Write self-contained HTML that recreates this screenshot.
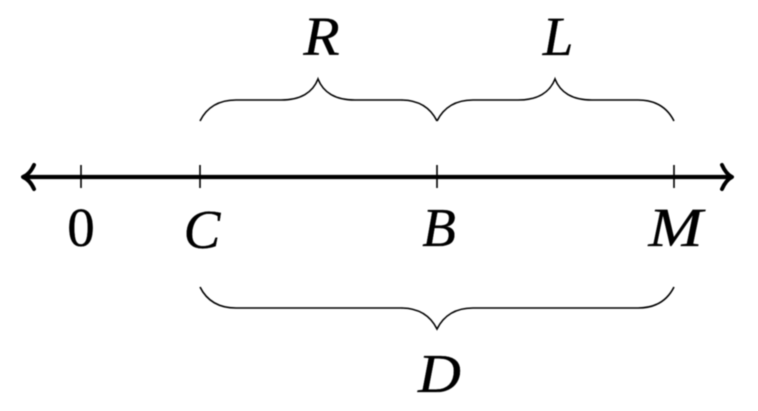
<!DOCTYPE html>
<html><head><meta charset="utf-8"><style>
html,body{margin:0;padding:0;background:#fff;width:758px;height:411px;overflow:hidden}
svg{display:block}
text{font-family:"Liberation Serif",serif;font-size:55px;fill:#000;stroke:#000;stroke-width:.35px;text-anchor:middle}
.i{font-style:italic}
</style></head><body>
<svg width="758" height="411" viewBox="0 0 758 411">
<defs><filter id="b" x="-5%" y="-5%" width="110%" height="110%"><feGaussianBlur stdDeviation="0.45"/></filter></defs>
<g filter="url(#b)">
<g fill="none" stroke="#000">
<path d="M26 177H730" stroke-width="4.2"/>
<path d="M34 165Q30 174 23 177Q30 180 34 189" stroke-width="4" stroke-linecap="round" stroke-linejoin="round"/>
<path d="M722 165Q726 174 732 177Q726 180 722 189" stroke-width="4" stroke-linecap="round" stroke-linejoin="round"/>
<path d="M81 165V188M200 165V188M437 165V188M674 165V188" stroke-width="1.6"/>
<g stroke-width="1.6">
<path d="M200 121C207 107 219 100 236 100H281C301 100 313 92 318 79C323 92 335 100 355 100H401C418 100 430 107 437 121"/>
<path d="M437 121C444 107 456 100 473 100H518C538 100 550 92 555 79C560 92 572 100 592 100H638C655 100 667 107 674 121"/>
<path d="M200 287C207 301 219 308 236 308H401C418 308 430 315 437 329C444 315 456 308 473 308H638C655 308 667 301 674 287"/>
</g>
</g>
<text class="i" transform="translate(321.5 55) scale(1.08 1)">R</text>
<text class="i" x="558" y="55">L</text>
<text x="81" y="246">0</text>
<text class="i" x="202" y="248">C</text>
<text class="i" x="439" y="246">B</text>
<text class="i" transform="translate(675.5 246) scale(1.18 1)">M</text>
<text class="i" transform="translate(439.5 392) scale(1.08 1)">D</text>
</g>
</svg>
</body></html>
